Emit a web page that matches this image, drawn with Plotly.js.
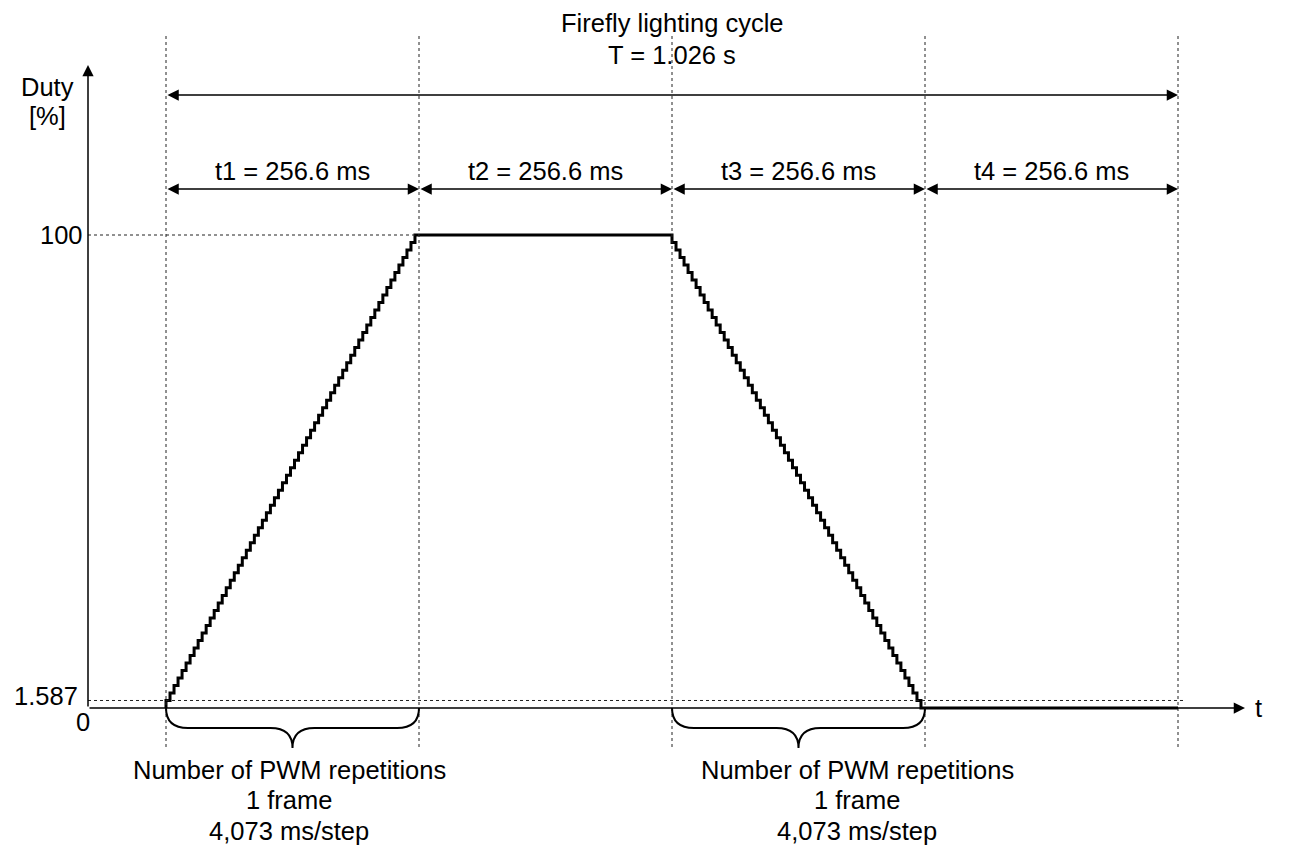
<!DOCTYPE html>
<html>
<head>
<meta charset="utf-8">
<script src="https://cdn.plot.ly/plotly-3.0.1.min.js"></script>
<style>html,body{margin:0;padding:0;background:#fff;}#chart{width:1314px;height:847px;}</style>
</head>
<body>
<div id="chart"></div>
<script>
// ---- data ----
const dutyLevels = [1.587, 3.175, 4.762, 6.349, 7.937, 9.524, 11.111, 12.698, 14.286, 15.873,
  17.460, 19.048, 20.635, 22.222, 23.810, 25.397, 26.984, 28.571, 30.159, 31.746,
  33.333, 34.921, 36.508, 38.095, 39.683, 41.270, 42.857, 44.444, 46.032, 47.619,
  49.206, 50.794, 52.381, 53.968, 55.556, 57.143, 58.730, 60.317, 61.905, 63.492,
  65.079, 66.667, 68.254, 69.841, 71.429, 73.016, 74.603, 76.190, 77.778, 79.365,
  80.952, 82.540, 84.127, 85.714, 87.302, 88.889, 90.476, 92.063, 93.651, 95.238,
  96.825, 98.413, 100];
const stepMs = 4.073;
const phaseMs = [256.6, 256.6, 256.6, 256.6];
const phaseLabels = ['t1 = 256.6 ms', 't2 = 256.6 ms', 't3 = 256.6 ms', 't4 = 256.6 ms'];
const yTickVals = [0, 1.587, 100];
const yTickText = ['0', '1.587', '100'];
const titleLines = ['Firefly lighting cycle', 'T = 1.026 s'];
const braceLines = ['Number of PWM repetitions', '1 frame', '4,073 ms/step'];

// ---- phase boundaries ----
const bounds = [0];
phaseMs.forEach(p => bounds.push(bounds[bounds.length - 1] + p));
const total = bounds[4];

// ---- waveform ----
const xs = [0], ys = [0];
dutyLevels.forEach((d, k) => { xs.push(bounds[0] + k * stepMs); ys.push(d); });
xs.push(bounds[2]); ys.push(100);
const down = dutyLevels.slice(0, -1).reverse().concat([0]);
down.forEach((d, k) => { xs.push(bounds[2] + k * stepMs); ys.push(d); });
xs.push(total); ys.push(0);

// pixel-scale helpers (layout only)
const PXX = 1012 / 1026.4, PXY = 4.73;
const dx = p => p / PXX, dy = p => p / PXY;
const X0 = 166, Y0 = 708;
const px2x = p => (p - X0) / PXX, px2y = p => (Y0 - p) / PXY;
const xAxisPos = px2x(88);

const font = {family: 'Liberation Sans, Arial, sans-serif', size: 25.5, color: '#000'};
const shapes = [], ann = [];
const dotLine = {color: '#222', width: 1, dash: 'dot'};

bounds.forEach(b => shapes.push({type: 'line', x0: b, x1: b, y0: px2y(747), y1: px2y(35), line: dotLine}));
shapes.push({type: 'line', x0: xAxisPos, x1: bounds[1], y0: yTickVals[2], y1: yTickVals[2], line: dotLine});
shapes.push({type: 'line', x0: xAxisPos, x1: total + dx(7), y0: yTickVals[1], y1: yTickVals[1], line: dotLine});

function brace(a, b) {
  const m = (a + b) / 2, r = dx(22), h = -dy(20), tip = -dy(40);
  return `M${a},0 Q${a},${h} ${a + r},${h} L${m - r},${h} Q${m},${h} ${m},${tip} Q${m},${h} ${m + r},${h} L${b - r},${h} Q${b},${h} ${b},0`;
}
shapes.push({type: 'path', path: brace(bounds[0], bounds[1]), line: {color: '#000', width: 2}});
shapes.push({type: 'path', path: brace(bounds[2], bounds[3]), line: {color: '#000', width: 2}});

function arrow(x0, y0, x1, y1, both) {
  ann.push({x: x1, y: y1, ax: x0, ay: y0, xref: 'x', yref: 'y', axref: 'x', ayref: 'y',
    text: '', showarrow: true, arrowhead: 2, arrowsize: 1.5, arrowwidth: 1.5, arrowcolor: '#000',
    startarrowhead: 2, startarrowsize: 1.5, arrowside: both ? 'end+start' : 'end', standoff: 0, startstandoff: 0});
}
arrow(xAxisPos, 0, px2x(1245), 0, false);
arrow(xAxisPos, 0, xAxisPos, px2y(65), false);
arrow(bounds[0], px2y(95), total, px2y(95), true);
for (let i = 0; i < 4; i++) {
  arrow(bounds[i], px2y(189), bounds[i + 1], px2y(189), true);
  ann.push({x: (bounds[i] + bounds[i + 1]) / 2, y: px2y(171), text: phaseLabels[i], showarrow: false, font: font, xanchor: 'center', yanchor: 'middle'});
}
ann.push({x: total / 2, y: px2y(23), text: titleLines[0], showarrow: false, font: font, yanchor: 'middle'});
ann.push({x: total / 2, y: px2y(55), text: titleLines[1], showarrow: false, font: font, yanchor: 'middle'});
ann.push({x: px2x(47), y: px2y(87), text: 'Duty', showarrow: false, font: font, yanchor: 'middle'});
ann.push({x: px2x(47), y: px2y(116), text: '[%]', showarrow: false, font: font, yanchor: 'middle'});
ann.push({x: px2x(85), y: yTickVals[2], text: yTickText[2], showarrow: false, font: font, xanchor: 'right', yanchor: 'middle'});
ann.push({x: px2x(80), y: yTickVals[1], yshift: 4, text: yTickText[1], showarrow: false, font: font, xanchor: 'right', yanchor: 'middle'});
ann.push({x: px2x(83), y: yTickVals[0], yshift: -14, text: yTickText[0], showarrow: false, font: font, xanchor: 'center', yanchor: 'middle'});
ann.push({x: px2x(1258), y: 0, text: 't', showarrow: false, font: font, xanchor: 'center', yanchor: 'middle'});
const braceTextY = [770, 800, 831];
[px2x(289), px2x(857)].forEach(cx => {
  braceLines.forEach((t, j) => ann.push({x: cx, y: px2y(braceTextY[j]), text: t, showarrow: false, font: font, yanchor: 'middle'}));
});

const trace = {x: xs, y: ys, type: 'scatter', mode: 'lines', line: {shape: 'hv', color: '#000', width: 3}, hoverinfo: 'skip'};

const layout = {
  width: 1314, height: 847,
  margin: {l: 0, r: 0, t: 0, b: 0},
  paper_bgcolor: '#fff', plot_bgcolor: '#fff',
  showlegend: false,
  xaxis: {range: [px2x(0), px2x(1314)], visible: false, fixedrange: true},
  yaxis: {range: [px2y(847), px2y(0)], visible: false, fixedrange: true},
  shapes: shapes, annotations: ann
};
Plotly.newPlot('chart', [trace], layout, {displayModeBar: false, staticPlot: true});
</script>
</body>
</html>
